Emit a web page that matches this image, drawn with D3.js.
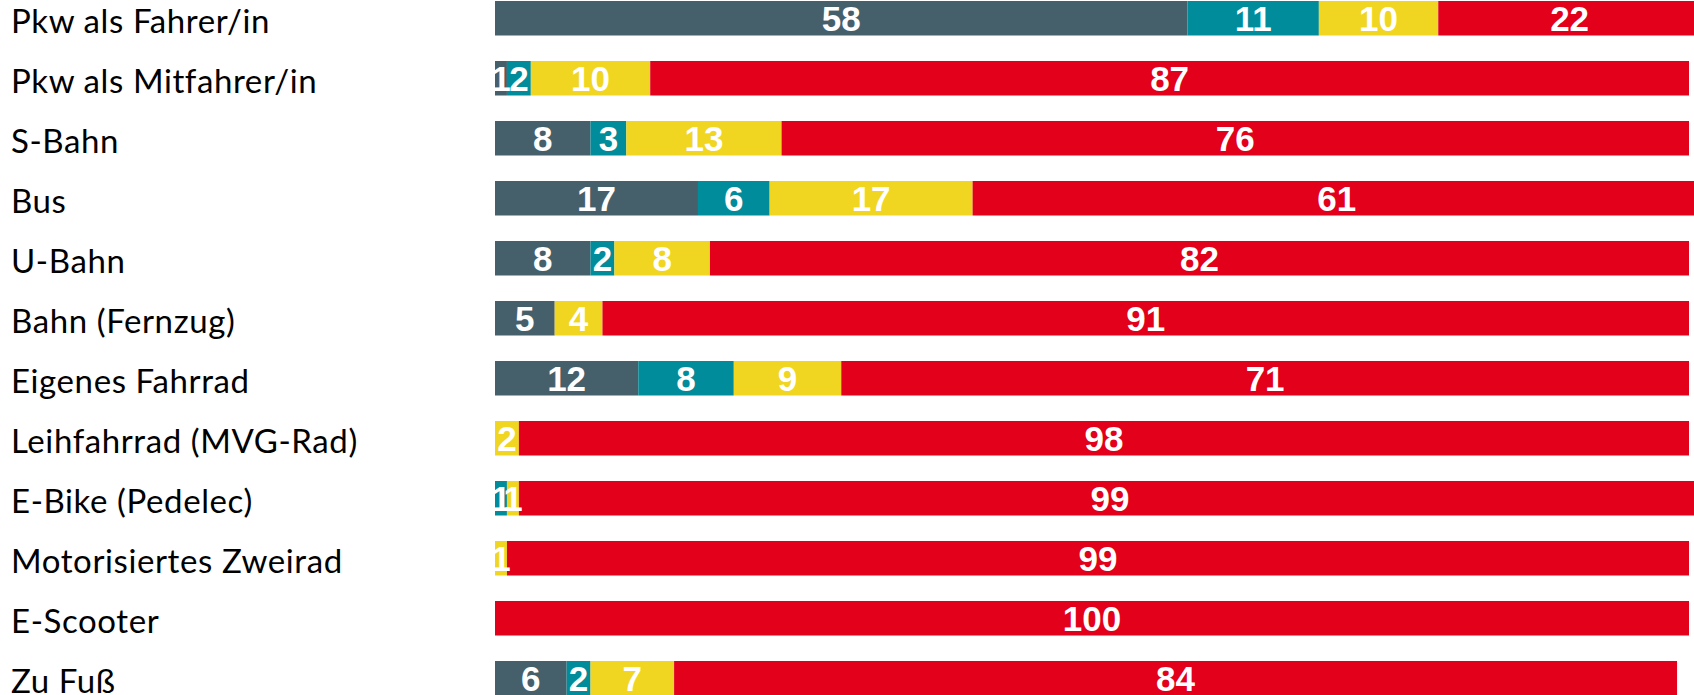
<!DOCTYPE html>
<html>
<head>
<meta charset="utf-8">
<script src="https://cdn.jsdelivr.net/npm/d3@7"></script>
<style>
  html, body { margin: 0; padding: 0; background: #fff; overflow: hidden; }
  svg { display: block; }
</style>
</head>
<body>
<svg id="chart" width="1694" height="695"></svg>
<script>
// Verkehrsmittel (Zeilen)
const categories = [
  "Pkw als Fahrer/in",
  "Pkw als Mitfahrer/in",
  "S-Bahn",
  "Bus",
  "U-Bahn",
  "Bahn (Fernzug)",
  "Eigenes Fahrrad",
  "Leihfahrrad (MVG-Rad)",
  "E-Bike (Pedelec)",
  "Motorisiertes Zweirad",
  "E-Scooter",
  "Zu Fuß"
];

// Anteile in Prozent, je Serie
const serieA = [58, 1, 8, 17, 8, 5, 12, 0, 0, 0, 0, 6];
const serieB = [11, 2, 3, 6, 2, 0, 8, 0, 1, 0, 0, 2];
const serieC = [10, 10, 13, 17, 8, 4, 9, 2, 1, 1, 0, 7];
const serieD = [22, 87, 76, 61, 82, 91, 71, 98, 99, 99, 100, 84];

const seriesKeys = ["a", "b", "c", "d"];
const colors = ["#46606b", "#008c9b", "#f0d621", "#e2001a"];

const rows = categories.map((c, i) => ({
  cat: c,
  a: serieA[i],
  b: serieB[i],
  c: serieC[i],
  d: serieD[i]
}));

const svg = d3.select("#chart");

const x = d3.scaleLinear().domain([0, 100]).range([495, 1689]);

const pad = 0.425;
const step = 60;
const y = d3.scaleBand()
  .domain(categories)
  .range([1 - step * pad / 2, 1 - step * pad / 2 + step * categories.length])
  .paddingInner(pad)
  .paddingOuter(pad / 2);

const stacked = d3.stack().keys(seriesKeys)(rows);
const color = d3.scaleOrdinal().domain(seriesKeys).range(colors);

// Balken
const layers = svg.append("g").attr("class", "bars")
  .selectAll("g")
  .data(stacked)
  .enter()
  .append("g")
  .attr("fill", d => color(d.key));

layers.selectAll("rect")
  .data(d => d.filter(s => s[1] - s[0] > 0))
  .enter()
  .append("rect")
  .attr("x", d => x(d[0]))
  .attr("y", d => y(d.data.cat))
  .attr("width", d => x(d[1]) - x(d[0]))
  .attr("height", y.bandwidth());

// Werte in den Balken
svg.append("g").attr("class", "values")
  .selectAll("g")
  .data(stacked)
  .enter()
  .append("g")
  .selectAll("text")
  .data(d => d.filter(s => s[1] - s[0] > 0))
  .enter()
  .append("text")
  .attr("x", d => (x(d[0]) + x(d[1])) / 2)
  .attr("y", d => y(d.data.cat) + y.bandwidth() / 2 + 12.5)
  .attr("text-anchor", "middle")
  .attr("fill", "#fff")
  .style("font-family", "'Liberation Sans', Arial, sans-serif")
  .style("font-weight", "bold")
  .style("font-size", "35px")
  .text(d => d[1] - d[0]);

// Kategorien links
svg.append("g").attr("class", "labels")
  .selectAll("text")
  .data(categories)
  .enter()
  .append("text")
  .attr("x", 11)
  .attr("y", d => y(d) + y.bandwidth() / 2 + 14.5)
  .attr("fill", "#000")
  .style("font-family", "Lato, 'Open Sans', sans-serif")
  .style("font-size", "33px")
  .style("letter-spacing", "0.6px")
  .style("font-variant-ligatures", "none")
  .text(d => d);
</script>
</body>
</html>
